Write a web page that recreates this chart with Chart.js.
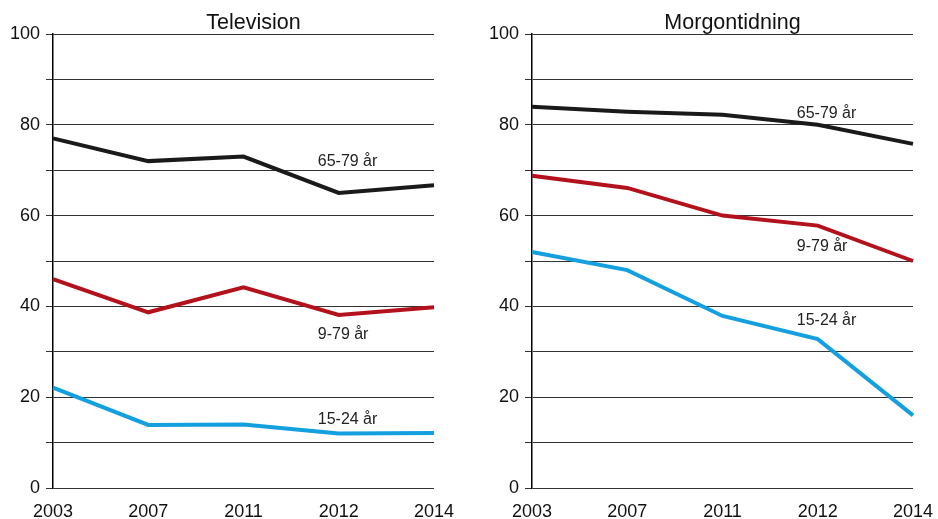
<!DOCTYPE html>
<html>
<head>
<meta charset="utf-8">
<script src="https://cdn.jsdelivr.net/npm/chart.js@4"></script>
<style>
  body { margin: 0; background: #fff; }
  .box { position: absolute; top: 0; width: 469px; height: 519px; }
</style>
</head>
<body>
<div class="box" style="left:0"><canvas id="tvChart" width="469" height="519"></canvas></div>
<div class="box" style="left:469px"><canvas id="mtChart" width="469" height="519"></canvas></div>
<script>
const years = ["2003", "2007", "2011", "2012", "2014"];
const groups = ["65-79 år", "9-79 år", "15-24 år"];
const yLabels = [0, 20, 40, 60, 80, 100];

const tv65 = [77, 72, 73, 65, 66.7];
const tv9 = [46, 38.7, 44.2, 38.1, 39.8];
const tv15 = [22.1, 13.9, 14, 12, 12.1];

const mt65 = [84, 82.9, 82.2, 80, 75.8];
const mt9 = [68.8, 66.1, 60, 57.8, 50];
const mt15 = [52, 48, 37.9, 32.8, 16];

// where the group names sit (value on y axis, next to 2012)
const tvLabelY = [71.8, 33.9, 15];
const mtLabelY = [82.4, 53.1, 36.8];

const colors = ["#1a1a1a", "#b3121c", "#149fdf"];
const FONT = "'Liberation Sans', Arial, sans-serif";

const titlePlugin = {
  id: "titleText",
  afterDraw(chart, args, opts) {
    const { ctx, chartArea } = chart;
    ctx.save();
    ctx.font = "21.5px " + FONT;
    ctx.fillStyle = "#111";
    ctx.textAlign = "center";
    ctx.textBaseline = "alphabetic";
    ctx.fillText(opts.text, (chartArea.left + chartArea.right) / 2 + 10, 29);
    ctx.restore();
  }
};

const seriesLabels = {
  id: "seriesLabels",
  afterDraw(chart, args, opts) {
    const { ctx } = chart;
    const xs = chart.scales.x, ys = chart.scales.y;
    ctx.save();
    ctx.font = "16px " + FONT;
    ctx.fillStyle = "#222";
    ctx.textAlign = "left";
    ctx.textBaseline = "middle";
    groups.forEach((g, i) => {
      ctx.fillText(g, xs.getPixelForValue(3) - 21, ys.getPixelForValue(opts.ys[i]));
    });
    ctx.restore();
  }
};

function makeChart(id, title, series, labelY, axisWidth, padRight) {
  return new Chart(document.getElementById(id), {
    type: "line",
    data: {
      labels: years,
      datasets: series.map((d, i) => ({
        label: groups[i],
        data: d,
        borderColor: colors[i],
        borderWidth: 4,
        borderCapStyle: "butt",
        pointRadius: 0,
        tension: 0,
        fill: false
      }))
    },
    options: {
      responsive: false,
      animation: false,
      layout: { padding: { top: 34, right: padRight, left: 0, bottom: 0 } },
      plugins: {
        legend: { display: false },
        tooltip: { enabled: false },
        titleText: { text: title },
        seriesLabels: { ys: labelY }
      },
      scales: {
        x: {
          offset: false,
          grid: { display: false, drawTicks: false },
          border: { display: false },
          ticks: { color: "#111", font: { family: FONT, size: 18 }, padding: 13, maxRotation: 0, autoSkip: false },
          afterFit: (s) => {
            s.height = 31;
            s.paddingLeft = 0;
            s.paddingRight = 0;
          }
        },
        y: {
          min: 0,
          max: 100,
          ticks: {
            stepSize: 10,
            color: "#111",
            font: { family: FONT, size: 18 },
            padding: 6,
            callback: (v) => (yLabels.includes(v) ? v : "")
          },
          grid: { color: "#333", lineWidth: 1, tickLength: 7 },
          border: { color: "#000", width: 1.5 },
          afterFit: (s) => { s.width = axisWidth; }
        }
      }
    },
    plugins: [titlePlugin, seriesLabels]
  });
}

makeChart("tvChart", "Television", [tv65, tv9, tv15], tvLabelY, 53, 35);
makeChart("mtChart", "Morgontidning", [mt65, mt9, mt15], mtLabelY, 63, 25);
</script>
</body>
</html>
